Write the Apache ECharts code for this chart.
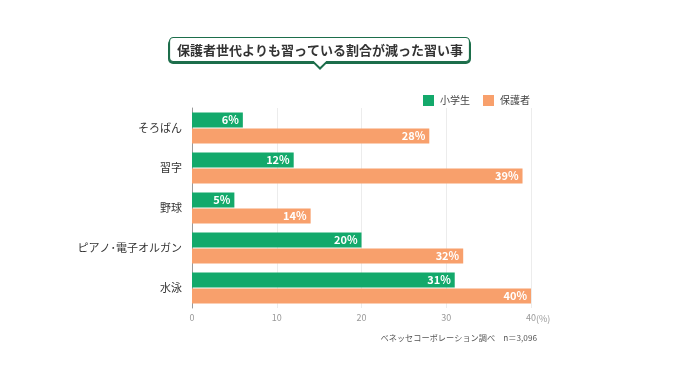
<!DOCTYPE html>
<html><head><meta charset="utf-8">
<script src="https://cdn.jsdelivr.net/npm/echarts@6/dist/echarts.min.js"></script>
<style>html,body{margin:0;padding:0;background:#fff}#c{width:680px;height:382px}</style>
</head><body><div id="c"></div>
<script>
const categories = ['そろばん', '習字', '野球', 'ピアノ･電子オルガン', '水泳'];
const seriesNames = ['小学生', '保護者'];
const kidsValues = [6, 12, 5, 20, 31];
const parentValues = [28, 39, 14, 32, 40];
const xTicks = [0, 10, 20, 30, 40];
const titleText = '保護者世代よりも習っている割合が減った習い事';
const sourceText = 'ベネッセコーポレーション調べ　n＝3,096';

const FONT = '"Noto Sans CJK JP", "Noto Sans", sans-serif';
const chart = echarts.init(document.getElementById('c'), null, {renderer: 'canvas'});
const labelStyle = {show: true, position: 'insideRight', formatter: '{c}%', color: '#fff', fontWeight: 'bold', fontSize: 11, fontFamily: FONT, distance: 4};
chart.setOption({
  animation: false,
  textStyle: {fontFamily: FONT},
  grid: {left: 192, right: 149, top: 108, bottom: 74, containLabel: false},
  legend: {
    data: seriesNames, right: 145, top: 90, itemWidth: 11, itemHeight: 11, itemGap: 13,
    icon: 'rect', textStyle: {fontSize: 10, color: '#444', fontFamily: FONT, padding: [0, 0, 0, 1]}
  },
  xAxis: {
    type: 'value', min: xTicks[0], max: xTicks[xTicks.length - 1], interval: 10,
    axisLine: {show: false}, axisTick: {show: false},
    splitLine: {lineStyle: {color: '#ececec'}},
    axisLabel: {color: '#999', fontSize: 9, margin: 5}
  },
  yAxis: {
    type: 'category', data: categories, inverse: true,
    axisLine: {show: true, lineStyle: {color: '#999'}}, axisTick: {show: false},
    axisLabel: {color: '#333', fontSize: 11, margin: 10}
  },
  series: [
    {name: seriesNames[0], type: 'bar', data: kidsValues, barWidth: 15, barGap: '8%',
     itemStyle: {color: '#13a96b'}, label: labelStyle},
    {name: seriesNames[1], type: 'bar', data: parentValues, barWidth: 15,
     itemStyle: {color: '#f8a06c'}, label: labelStyle}
  ],
  graphic: [
    {type: 'rect', shape: {x: 168, y: 39, width: 303, height: 25, r: 5},
     style: {fill: '#1d6e4b'}},
    {type: 'polygon', shape: {points: [[312, 62], [328, 62], [320, 70]]}, style: {fill: '#1d6e4b'}},
    {type: 'rect', shape: {x: 169.5, y: 37.5, width: 300, height: 24, r: 4},
     style: {fill: '#fff', stroke: '#1d6e4b', lineWidth: 1.2}},
    {type: 'polygon', shape: {points: [[313.5, 61], [326.5, 61], [320, 67.5]]}, style: {fill: '#fff'}},
    {type: 'polyline', shape: {points: [[313, 61.5], [320, 68], [327, 61.5]]}, style: {stroke: '#1d6e4b', lineWidth: 1.2, fill: null}},
    {type: 'text', x: 320, y: 50, style: {text: titleText, fill: '#333', fontSize: 13, fontWeight: 'bold', fontFamily: FONT, align: 'center', verticalAlign: 'middle'}},
    {type: 'text', x: 536, y: 318.5, style: {text: '(%)', fill: '#999', fontSize: 9, fontFamily: FONT, align: 'left', verticalAlign: 'middle'}},
    {type: 'text', x: 537, y: 338, style: {text: sourceText, fill: '#555', fontSize: 8.2, fontFamily: FONT, align: 'right', verticalAlign: 'middle'}}
  ]
});
</script></body></html>
